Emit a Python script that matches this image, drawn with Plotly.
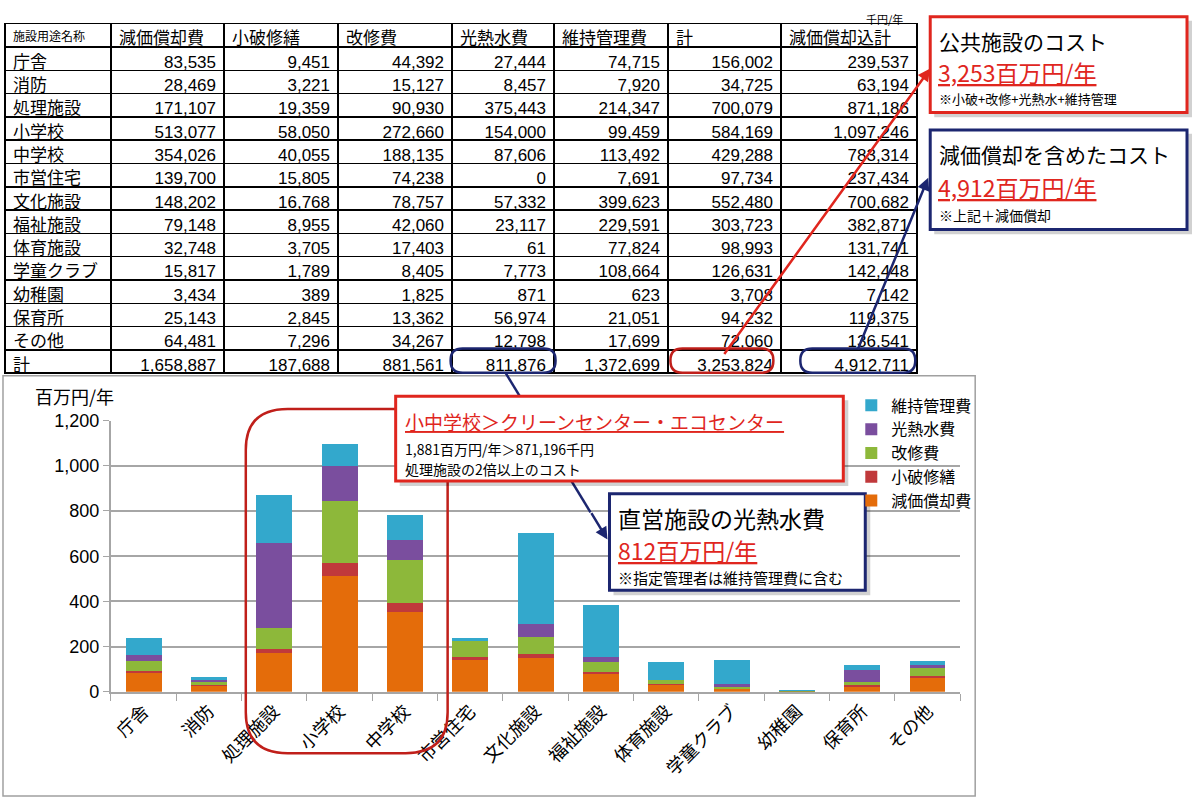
import plotly.graph_objects as go

W, H = 1200, 811

# table data, 千円/年
categories = ['庁舎', '消防', '処理施設', '小学校', '中学校', '市営住宅', '文化施設',
              '福祉施設', '体育施設', '学童クラブ', '幼稚園', '保育所', 'その他']
depreciation = [83535, 28469, 171107, 513077, 354026, 139700, 148202,
                79148, 32748, 15817, 3434, 25143, 64481]
minor_repair = [9451, 3221, 19359, 58050, 40055, 15805, 16768,
                8955, 3705, 1789, 389, 2845, 7296]
renovation = [44392, 15127, 90930, 272660, 188135, 74238, 78757,
              42060, 17403, 8405, 1825, 13362, 34267]
utilities = [27444, 8457, 375443, 154000, 87606, 0, 57332,
             23117, 61, 7773, 871, 56974, 12798]
maintenance = [74715, 7920, 214347, 99459, 113492, 7691, 399623,
               229591, 77824, 108664, 623, 21051, 17699]
subtotal = [156002, 34725, 700079, 584169, 429288, 97734, 552480,
            303723, 98993, 126631, 3708, 94232, 72060]
total_incl = [239537, 63194, 871186, 1097246, 783314, 237434, 700682,
              382871, 131741, 142448, 7142, 119375, 136541]
grand_total = [1658887, 187688, 881561, 811876, 1372699, 3253824, 4912711]

headers = ['施設用途名称', '減価償却費', '小破修繕', '改修費', '光熱水費',
           '維持管理費', '計', '減価償却込計']

series_names = ['減価償却費', '小破修繕', '改修費', '光熱水費', '維持管理費']
series_colors = ['#E46C0A', '#C0393B', '#8DB83A', '#7A4E9E', '#33A8CC']

FONT = 'Liberation Sans, Noto Sans CJK JP'
JP = 'Noto Sans CJK JP, Liberation Sans'
RED = '#E0261E'
DARKRED = '#C01F1A'
NAVY = '#1C2670'


def px(x):
    return x / W


def py(y):
    return 1 - y / H


def rounded(x0, y0, x1, y1, r):
    # rounded rectangle path in paper units, input in pixels
    pts = [
        ('M', x0 + r, y0), ('L', x1 - r, y0), ('Q', x1, y0, x1, y0 + r),
        ('L', x1, y1 - r), ('Q', x1, y1, x1 - r, y1), ('L', x0 + r, y1),
        ('Q', x0, y1, x0, y1 - r), ('L', x0, y0 + r), ('Q', x0, y0, x0 + r, y0),
    ]
    out = []
    for p in pts:
        cmd, coords = p[0], p[1:]
        xy = []
        for i in range(0, len(coords), 2):
            xy.append(f'{px(coords[i]):.5f},{py(coords[i + 1]):.5f}')
        out.append(cmd + ' ' + ' '.join(xy))
    return ' '.join(out) + ' Z'


def fmt(vals):
    return [f'{v:,}' for v in vals]


fig = go.Figure()

# table
columns = [categories + ['計']]
for col, tot in zip([depreciation, minor_repair, renovation, utilities,
                     maintenance, subtotal, total_incl], grand_total):
    columns.append(fmt(col) + [f'{tot:,}'])

fig.add_trace(go.Table(
    domain=dict(x=[px(4), px(917)], y=[py(398), py(14)]),
    columnwidth=[106, 113, 114, 114, 102, 114, 113, 136],
    header=dict(values=headers, align='left', height=23.3,
                fill=dict(color='rgba(0,0,0,0)'),
                line=dict(color='black', width=1.5),
                font=dict(family=FONT, color='black',
                          size=[12, 17, 17, 17, 17, 17, 17, 17])),
    cells=dict(values=columns, height=23.3,
               align=['left'] + ['right'] * 7,
               fill=dict(color='rgba(0,0,0,0)'),
               line=dict(color='black', width=1.5),
               font=dict(family=FONT, color='black', size=17)),
))

# stacked bars, 百万円/年
for name, vals, color in zip(series_names,
                             [depreciation, minor_repair, renovation, utilities, maintenance],
                             series_colors):
    fig.add_trace(go.Bar(
        x=categories, y=[v / 1000 for v in vals], name=name,
        marker=dict(color=color, line=dict(width=0)), width=0.55,
    ))

shapes = []
# chart frame
shapes.append(dict(type='rect', xref='paper', yref='paper', layer='below',
                   x0=px(2), x1=px(975), y0=py(806), y1=py(375),
                   line=dict(color='#A0A0A0', width=1.5)))
# highlight around school bars
shapes.append(dict(type='path', xref='paper', yref='paper', layer='above',
                   path=rounded(245, 409, 447, 762, 42),
                   line=dict(color=DARKRED, width=2.5)))
# total row marks
for x0, x1, c in [(450, 555, NAVY), (670, 773, DARKRED), (800, 915, NAVY)]:
    shapes.append(dict(type='path', xref='paper', yref='paper', layer='above',
                       path=rounded(x0, 347, x1, 372, 12),
                       line=dict(color=c, width=2.5)))
# navy line from utilities total to box D (goes behind box C)
shapes.append(dict(type='line', xref='paper', yref='paper', layer='above',
                   x0=px(505), y0=py(372), x1=px(590), y1=py(515),
                   line=dict(color=NAVY, width=2.5)))
# boxes with shadows
boxes = [(930, 7, 1187, 105, RED), (930, 123, 1187, 225, NAVY),
         (395, 396, 843, 483, RED), (609, 496, 865, 595, NAVY)]
for x0, y0, x1, y1, c in boxes:
    shapes.append(dict(type='rect', xref='paper', yref='paper', layer='above',
                       x0=px(x0 + 4), x1=px(x1 + 5), y0=py(y1 + 5), y1=py(y0 + 4),
                       fillcolor='rgba(0,0,0,0.18)', line=dict(width=0)))
    shapes.append(dict(type='rect', xref='paper', yref='paper', layer='above',
                       x0=px(x0), x1=px(x1), y0=py(y1), y1=py(y0),
                       fillcolor='white', line=dict(color=c, width=3)))

annotations = []


def text(x, y, s, size, color='black', anchor='left'):
    annotations.append(dict(x=px(x), y=py(y), xref='paper', yref='paper',
                            text=s, showarrow=False, xanchor=anchor, yanchor='middle',
                            font=dict(family=JP, size=size, color=color)))


def arrow(x0, y0, x1, y1, color):
    annotations.append(dict(x=px(x1), y=py(y1), ax=x0 - x1, ay=y0 - y1,
                            xref='paper', yref='paper', axref='pixel', ayref='pixel',
                            text='', showarrow=True, arrowhead=2, arrowsize=1,
                            arrowwidth=2.5, arrowcolor=color, standoff=0))


arrow(723, 347, 930, 60, RED)
arrow(857, 345, 928, 172, NAVY)
arrow(590, 515, 607, 543, NAVY)

text(905, 9, '千円/年', 11, anchor='right')
text(32, 396, '百万円/年', 18)

text(937, 32, '公共施設のコスト', 21)
text(936, 64, '<u>3,253百万円/年</u>', 23, RED)
text(937, 91, '※小破+改修+光熱水+維持管理', 13)

text(937, 148, '減価償却を含めたコスト', 21)
text(936, 181, '<u>4,912百万円/年</u>', 23, RED)
text(937, 210, '※上記＋減価償却', 14)

text(402, 422, '<u>小中学校＞クリーンセンター・エコセンター</u>', 19, RED)
text(402, 450, '1,881百万円/年＞871,196千円', 14)
text(402, 471, '処理施設の2倍以上のコスト', 14)

text(616, 521, '直営施設の光熱水費', 23)
text(616, 554, '<u>812百万円/年</u>', 23, RED)
text(616, 582, '※指定管理者は維持管理費に含む', 15)

fig.update_layout(
    width=W, height=H,
    margin=dict(l=0, r=0, t=0, b=0),
    paper_bgcolor='white',
    plot_bgcolor='rgba(0,0,0,0)',
    barmode='stack',
    font=dict(family=FONT, color='black'),
    shapes=shapes,
    annotations=annotations,
    showlegend=True,
    legend=dict(x=px(851), y=py(388), xanchor='left', yanchor='top',
                traceorder='reversed', bgcolor='rgba(0,0,0,0)',
                font=dict(family=JP, size=16), itemwidth=30),
    xaxis=dict(domain=[px(110), px(960)], showline=True, linecolor='#A6A6A6',
               linewidth=2, ticks='outside', tickson='boundaries', ticklen=7,
               tickcolor='#A6A6A6', tickangle=-45,
               tickfont=dict(family=JP, size=18), showgrid=False),
    yaxis=dict(domain=[py(699), py(421)], range=[0, 1200], dtick=200,
               tickformat=',', showgrid=True, gridcolor='#A6A6A6', gridwidth=2,
               showline=True, linecolor='#A6A6A6', linewidth=2, ticks='outside',
               ticklen=6, tickcolor='#A6A6A6', zeroline=False,
               tickfont=dict(family='Liberation Sans', size=18)),
)

# remove the default page margin so the figure sits at the window corner
fig.write_html('out.html', config={'displayModeBar': False},
               post_script="document.body.style.margin='0';")
